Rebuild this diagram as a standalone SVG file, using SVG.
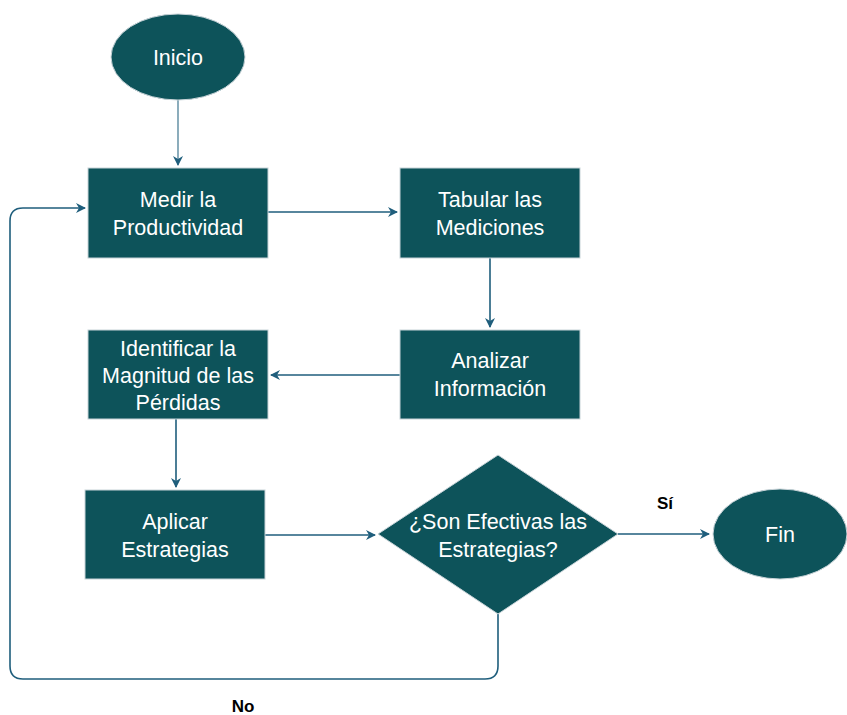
<svg xmlns="http://www.w3.org/2000/svg" width="847" height="715" viewBox="0 0 847 715">
<style>
.n{fill:#0d535a;stroke:#c8d3d8;stroke-width:1}
.t{font-family:"Liberation Sans",Arial,sans-serif;font-size:21.5px;fill:#ffffff;text-anchor:middle}
.c{fill:none;stroke:#1f5e7c;stroke-width:1.6}
.l{font-family:"Liberation Sans",Arial,sans-serif;font-size:17px;font-weight:bold;fill:#000;text-anchor:middle}
</style>
<defs>
<marker id="a" markerWidth="10" markerHeight="10" refX="9" refY="5" orient="auto" markerUnits="userSpaceOnUse">
<path d="M0,0 L10,5 L0,10 L3,5 Z" fill="#1f5e7c"/>
</marker>
</defs>
<g id="connectors">
<path class="c" d="M178,100 V165" style="stroke:#6f98ab" marker-end="url(#a)"/>
<path class="c" d="M268,212 H397" marker-end="url(#a)"/>
<path class="c" d="M490,258 V327" marker-end="url(#a)"/>
<path class="c" d="M400,375 H271" marker-end="url(#a)"/>
<path class="c" d="M176,418 V487" marker-end="url(#a)"/>
<path class="c" d="M265,535 H375" marker-end="url(#a)"/>
<path class="c" d="M618,534 H709" marker-end="url(#a)"/>
<path class="c" d="M498,614 V666 Q498,679 485,679 H23 Q10,679 10,666 V221 Q10,208 23,208 H85" marker-end="url(#a)"/>
</g>
<g id="inicio"><ellipse class="n" cx="178" cy="57" rx="67" ry="43"/><text class="t" x="178" y="65">Inicio</text></g>
<g id="medir"><rect class="n" x="88" y="168" width="180" height="90"/><text class="t" x="178" y="207">Medir la</text><text class="t" x="178" y="235">Productividad</text></g>
<g id="tabular"><rect class="n" x="400" y="168" width="180" height="90"/><text class="t" x="490" y="207">Tabular las</text><text class="t" x="490" y="235">Mediciones</text></g>
<g id="analizar"><rect class="n" x="400" y="330" width="180" height="89"/><text class="t" x="490" y="368">Analizar</text><text class="t" x="490" y="396">Información</text></g>
<g id="identificar"><rect class="n" x="88" y="330" width="180" height="89"/><text class="t" x="178" y="356">Identificar la</text><text class="t" x="178" y="383">Magnitud de las</text><text class="t" x="178" y="410">Pérdidas</text></g>
<g id="aplicar"><rect class="n" x="85" y="490" width="180" height="89"/><text class="t" x="175" y="529">Aplicar</text><text class="t" x="175" y="557">Estrategias</text></g>
<g id="decision"><polygon class="n" points="498,455 618,534 498,614 378,534"/><text class="t" x="498" y="529">¿Son Efectivas las</text><text class="t" x="498" y="557">Estrategias?</text></g>
<g id="fin"><ellipse class="n" cx="780" cy="534" rx="67" ry="45"/><text class="t" x="780" y="542">Fin</text></g>
<text class="l" x="665" y="509">Sí</text>
<text class="l" x="243" y="712">No</text>
</svg>
